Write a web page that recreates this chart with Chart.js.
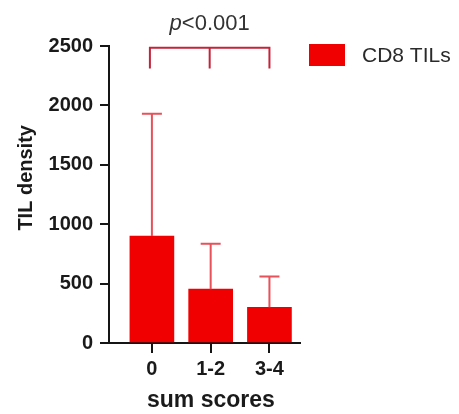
<!DOCTYPE html>
<html>
<head>
<meta charset="utf-8">
<script src="https://cdn.jsdelivr.net/npm/chart.js@4"></script>
<style>
html,body{margin:0;padding:0;background:#fff;}
</style>
</head>
<body>
<canvas id="c" width="459" height="414"></canvas>
<script>
// values
var categories = ['0', '1-2', '3-4'];
var means = [900, 453, 300];
var sds = [1030, 383, 260];
var yTicks = [0, 500, 1000, 1500, 2000, 2500];
var seriesLabel = 'CD8 TILs';
var pLabel = '<0.001';

var barColor = 'rgb(240,0,0)';
var errColor = 'rgb(232,80,90)';
var bracketColor = 'rgb(196,36,58)';
var axisColor = '#151515';
var fontFam = '"Liberation Sans", Arial, sans-serif';

var extras = {
    id: 'extras',
    afterDatasetsDraw: function(chart) {
        var ctx = chart.ctx;
        var xs = chart.scales.x, ys = chart.scales.y;
        ctx.save();

        // upper error bars
        ctx.strokeStyle = errColor;
        ctx.lineWidth = 2;
        means.forEach(function(m, i) {
            var px = xs.getPixelForValue(i);
            var y0 = ys.getPixelForValue(m);
            var y1 = ys.getPixelForValue(m + sds[i]);
            ctx.beginPath();
            ctx.moveTo(px, y0); ctx.lineTo(px, y1);
            ctx.moveTo(px - 10, y1); ctx.lineTo(px + 10, y1);
            ctx.stroke();
        });

        // significance bracket
        var top = ys.getPixelForValue(2485), drop = ys.getPixelForValue(2310);
        var xl = xs.getPixelForValue(0) - 2, xm = xs.getPixelForValue(1) - 1, xr = xs.getPixelForValue(2);
        ctx.strokeStyle = bracketColor;
        ctx.lineWidth = 2;
        ctx.beginPath();
        ctx.moveTo(xl, drop); ctx.lineTo(xl, top); ctx.lineTo(xr, top); ctx.lineTo(xr, drop);
        ctx.moveTo(xm, top); ctx.lineTo(xm, drop);
        ctx.stroke();

        ctx.fillStyle = '#333';
        ctx.textBaseline = 'middle';
        ctx.font = 'italic 22px ' + fontFam;
        var wp = ctx.measureText('p').width;
        ctx.font = '22px ' + fontFam;
        var wr = ctx.measureText(pLabel).width;
        var sx = xm - (wp + wr) / 2;
        ctx.font = 'italic 22px ' + fontFam;
        ctx.textAlign = 'left';
        ctx.fillText('p', sx, 24);
        ctx.font = '22px ' + fontFam;
        ctx.fillText(pLabel, sx + wp, 24);

        // legend
        var lx = chart.chartArea.right + 9;
        ctx.fillStyle = barColor;
        ctx.fillRect(lx, 44, 36, 22);
        ctx.fillStyle = '#2a2a2a';
        ctx.font = '21px ' + fontFam;
        ctx.fillText(chart.data.datasets[0].label, lx + 53, 56);
        ctx.restore();
    }
};

var ctx = document.getElementById('c').getContext('2d');
var myChart = new Chart(ctx, {
    type: 'bar',
    data: {
        datasets: [{
            label: seriesLabel,
            data: means.map(function(m, i) { return {x: i, y: m}; }),
            backgroundColor: barColor,
            borderWidth: 0,
            barThickness: 44
        }]
    },
    options: {
        responsive: false,
        animation: false,
        devicePixelRatio: 1,
        layout: {
            padding: {left: 0, top: 46, right: 159, bottom: 0}
        },
        scales: {
            x: {
                type: 'linear',
                offset: false,
                min: -0.73,
                max: 2.52,
                afterBuildTicks: function(s) {
                    s.ticks = categories.map(function(c, i) { return {value: i}; });
                },
                afterFit: function(s) { s.height = 71; },
                grid: {offset: false, drawOnChartArea: false, drawTicks: true, tickLength: 10, color: axisColor, lineWidth: 2},
                border: {display: true, color: axisColor, width: 2},
                ticks: {
                    autoSkip: false,
                    maxRotation: 0,
                    padding: 4,
                    color: '#1a1a1a',
                    font: {family: fontFam, size: 20, weight: 'bold'},
                    callback: function(v, i) { return categories[i]; }
                },
                title: {
                    display: true,
                    text: '  sum scores',
                    color: '#1a1a1a',
                    padding: {top: 0, bottom: 0},
                    font: {family: fontFam, size: 23, weight: 'bold'}
                }
            },
            y: {
                min: 0,
                max: 2500,
                afterBuildTicks: function(s) {
                    s.ticks = yTicks.map(function(v) { return {value: v}; });
                },
                afterFit: function(s) { s.width = 109; },
                grid: {drawOnChartArea: false, drawTicks: true, tickLength: 9, color: axisColor, lineWidth: 2},
                border: {display: true, color: axisColor, width: 2},
                ticks: {
                    padding: 7,
                    color: '#1a1a1a',
                    font: {family: fontFam, size: 20, weight: 'bold'},
                    callback: function(v) { return String(v); }
                },
                title: {
                    display: true,
                    text: '      TIL density',
                    color: '#1a1a1a',
                    padding: {top: 14, bottom: 0},
                    font: {family: fontFam, size: 20, weight: 'bold'}
                }
            }
        },
        plugins: {
            legend: {display: false},
            tooltip: {enabled: false}
        }
    },
    plugins: [extras]
});
</script>
</body>
</html>
